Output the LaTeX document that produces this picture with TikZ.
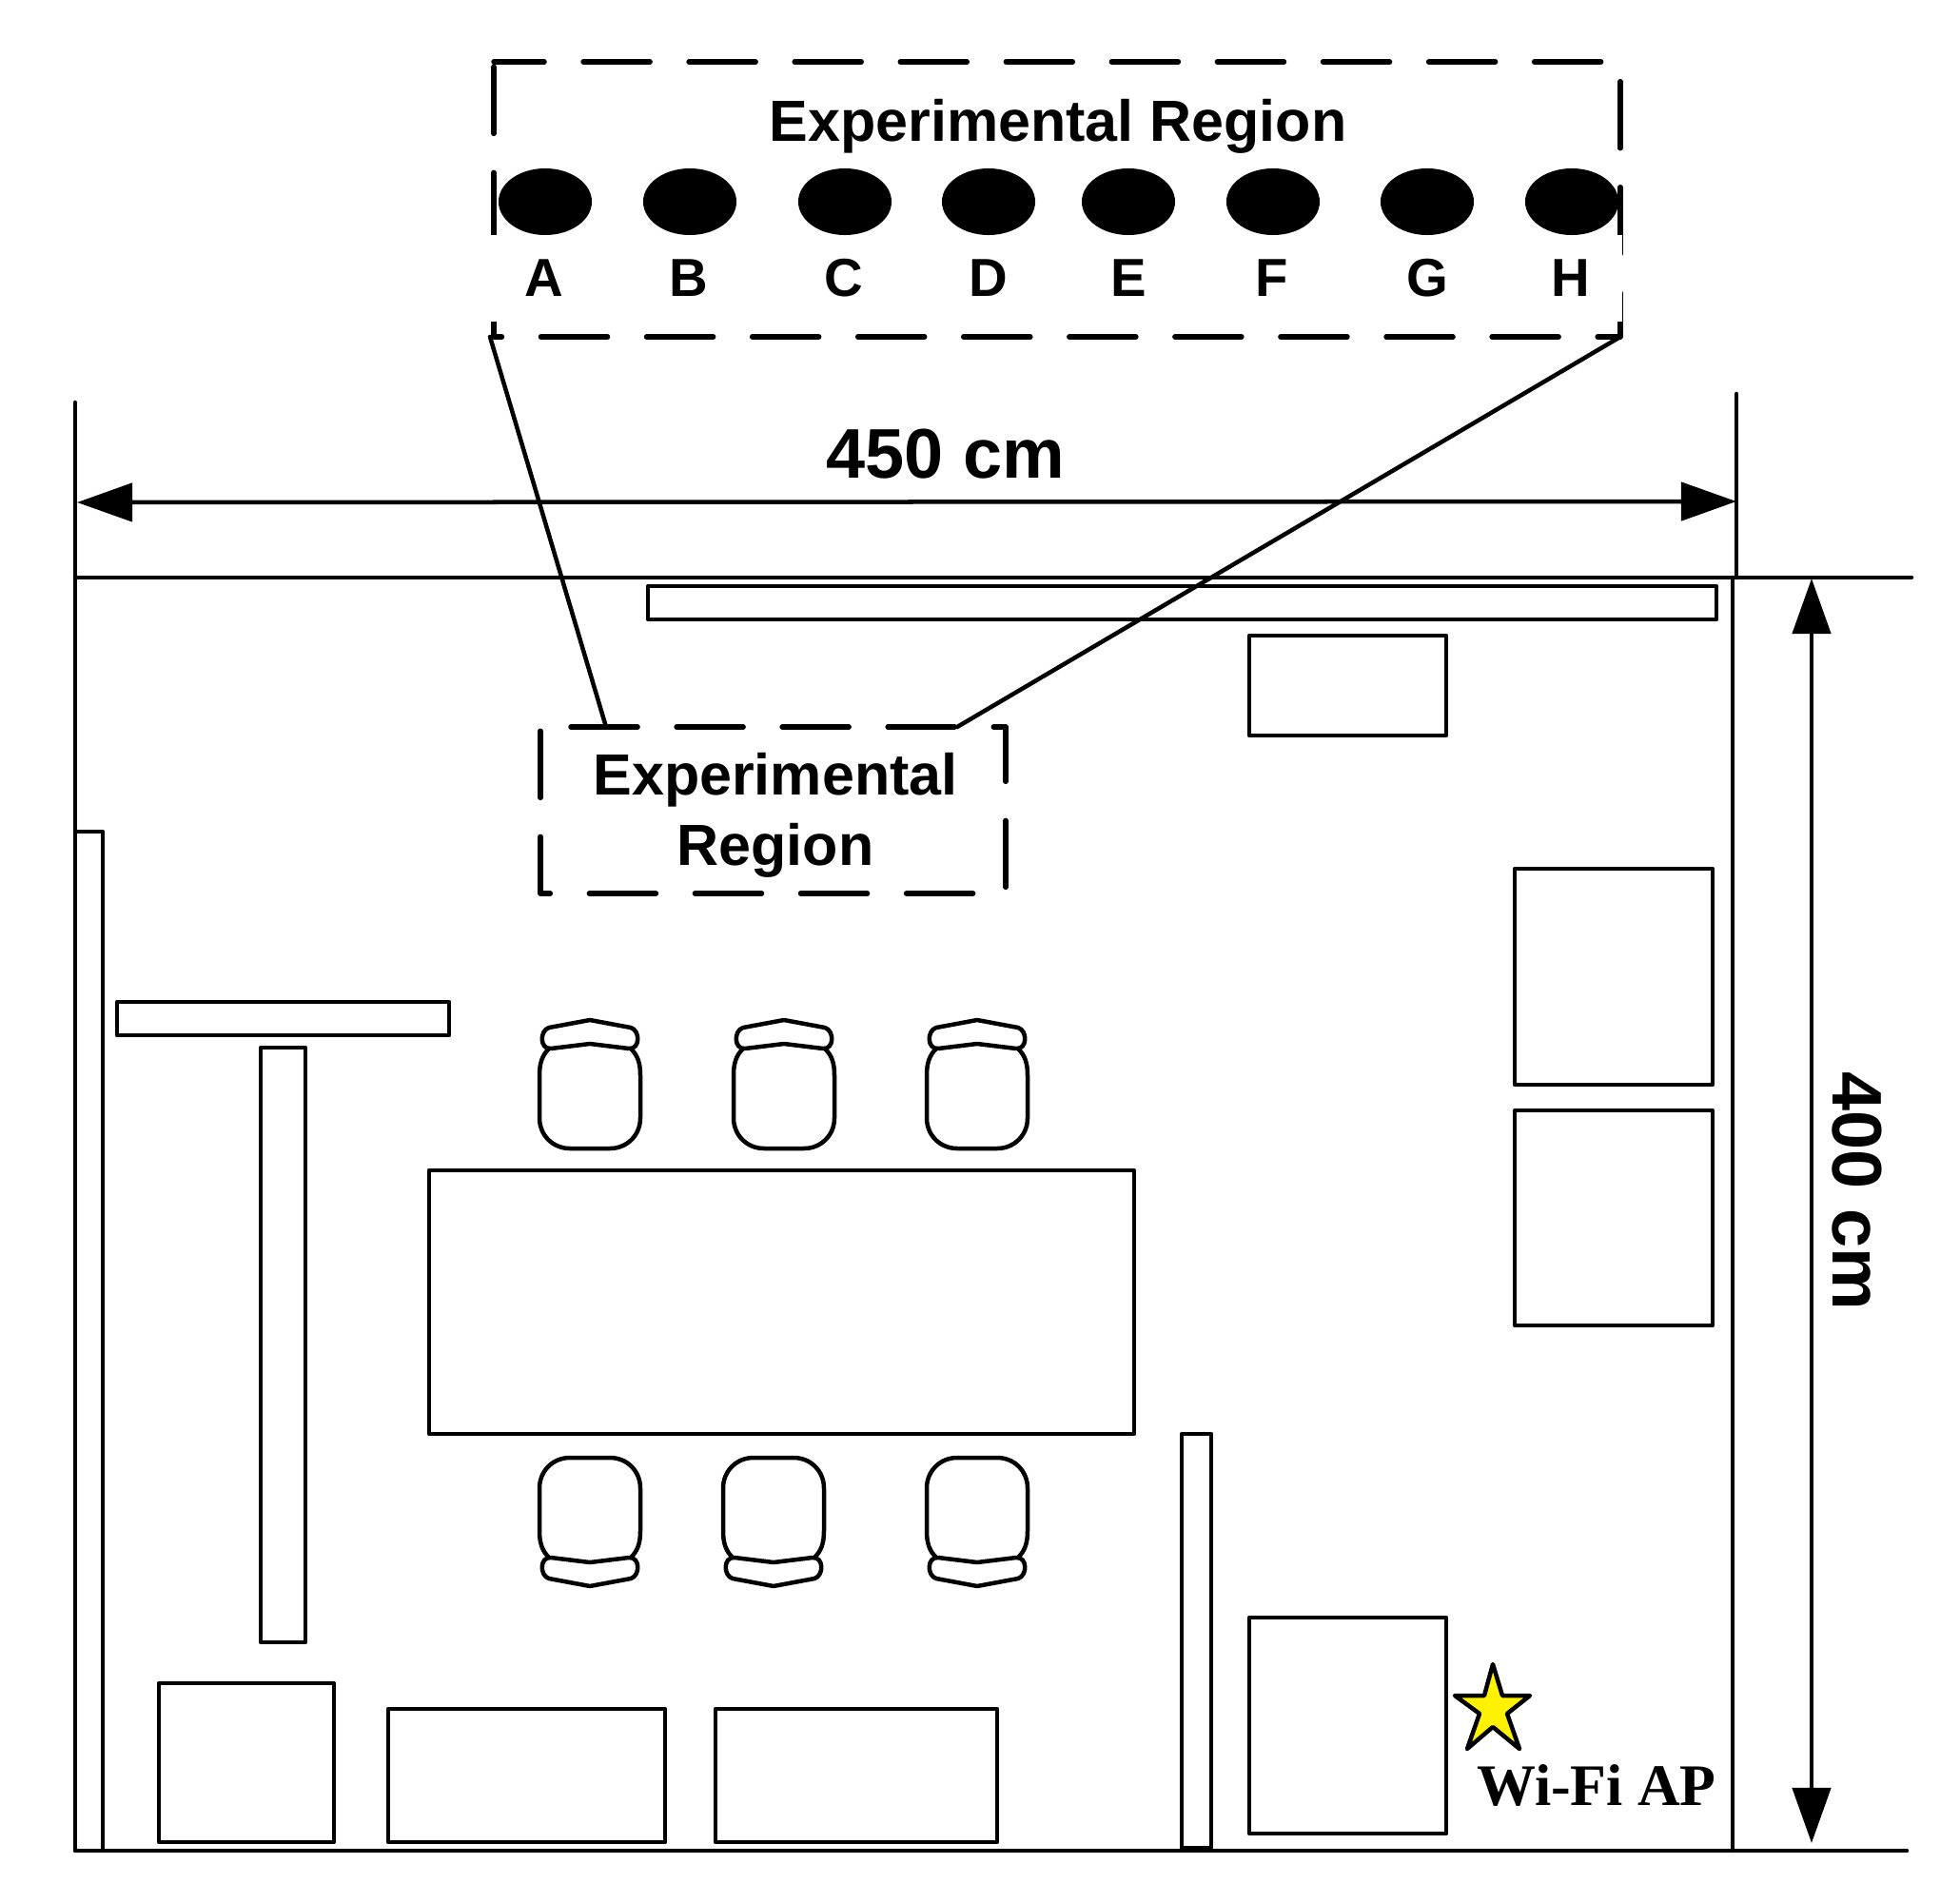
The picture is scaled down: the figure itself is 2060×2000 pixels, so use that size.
\documentclass[tikz,border=0pt]{standalone}
\usepackage{fontspec}
\setmainfont{Liberation Sans}
\newfontfamily\apfont{Liberation Serif}
\usetikzlibrary{arrows.meta,shapes.geometric}
\tikzset{
  plan/.style={draw,line width=0.045cm,line cap=round,line join=round},
  regionbox/.style={plan,line width=0.055cm,dash pattern=on 0.7cm off 0.41cm},
  dimarrow/.style={plan,{Triangle[length=0.58cm,width=0.4cm]}-{Triangle[length=0.58cm,width=0.4cm]}},
  spot/.style={ellipse,fill=black,inner sep=0pt,minimum width=0.98cm,minimum height=0.7cm},
  regionlabel/.style={anchor=base,inner sep=0pt,font=\bfseries\fontsize{17.35}{20.8}\selectfont},
  spotlabel/.style={anchor=base,inner sep=0pt,font=\bfseries\fontsize{16}{19}\selectfont},
  dimlabel/.style={anchor=base,inner sep=0pt,font=\bfseries\fontsize{21}{25}\selectfont},
  pics/chair/.style={code={
    \draw[plan] (-43,30) .. controls (-50,37) and (-53,45) .. (-53,58) -- (-53,103)
      .. controls (-53,121) and (-39,135) .. (-21,135) -- (21,135)
      .. controls (39,135) and (53,121) .. (53,103) -- (53,58)
      .. controls (53,45) and (50,37) .. (43,30);
    \draw[plan] (0,0) -- (-43,8) .. controls (-53,11) and (-53,31) .. (-41,30) -- (0,25)
      -- (41,30) .. controls (53,31) and (53,11) .. (43,8) -- cycle;
  }}
}
\begin{document}
\begin{tikzpicture}[x=0.01cm,y=-0.01cm]
    \useasboundingbox (0,0) rectangle (2060,2000);

    \coordinate (r1) at (519,65);
    \coordinate (r2) at (1703,65);
    \coordinate (r3) at (1703,354);
    \coordinate (r4) at (519,354);
    \coordinate (r5) at (515,354);
    \coordinate (k1) at (637,764);
    \coordinate (k2) at (1006,764);

    \draw[regionbox,dash phase=0.17cm] (r1) -- (r2) -- (r3) -- (r4) -- cycle;
    \fill[white] (510,247) rectangle (1704.6,338);
    \draw[regionbox] (600,764) -- (1057,764) -- (1057,939) -- (568,939) -- (568,764) -- cycle;

    \node[regionlabel] (bigtitle) at (1112,149) {Experimental Region};
    \node[regionlabel,align=center] (smalltitle) at (815,909) {Experimental\\Region};

    \node[spot] (a) at (573,212) {};
    \node[spot] (b) at (725,212) {};
    \node[spot] (c) at (888,212) {};
    \node[spot] (d) at (1039,212) {};
    \node[spot] (e) at (1186,212) {};
    \node[spot] (f) at (1338,212) {};
    \node[spot] (g) at (1500,212) {};
    \node[spot] (h) at (1652,212) {};

    \node[spotlabel] (la) at (572,311) {A};
    \node[spotlabel] (lb) at (724,311) {B};
    \node[spotlabel] (lc) at (887,311) {C};
    \node[spotlabel] (ld) at (1039,311) {D};
    \node[spotlabel] (le) at (1186,311) {E};
    \node[spotlabel] (lf) at (1337,311) {F};
    \node[spotlabel] (lg) at (1500,311) {G};
    \node[spotlabel] (lh) at (1651,311) {H};

    \draw[plan] (r5) -- (k1);
    \draw[plan] (r3) -- (k2);

    \coordinate (w1) at (79,423);
    \coordinate (w2) at (79,1945);
    \coordinate (w3) at (1825,414);
    \coordinate (w4) at (1825,607);
    \coordinate (w5) at (1821,607);
    \coordinate (w6) at (1821,1945);
    \coordinate (t1) at (79,607);
    \coordinate (t2) at (2009,607);
    \coordinate (b2) at (2004,1945);
    \coordinate (h1) at (81,528);
    \coordinate (h2) at (1825,527);
    \coordinate (v1) at (1904,608);
    \coordinate (v2) at (1904,1937);

    \draw[plan] (w1) -- (w2) -- (b2);
    \draw[plan] (t1) -- (t2);
    \draw[plan] (w3) -- (w4);
    \draw[plan] (w5) -- (w6);
    \draw[dimarrow] (h1) -- (h2);
    \draw[dimarrow] (v1) -- (v2);

    \node[dimlabel] (width) at (994,502) {450 cm};
    \node[dimlabel,rotate=-90] (height) at (1926,1252) {400 cm};

    \draw[plan] (681,616) rectangle (1804,651);
    \draw[plan] (1313,668) rectangle (1520,773);
    \draw[plan] (1592,913) rectangle (1800,1140);
    \draw[plan] (1592,1167) rectangle (1800,1393);
    \draw[plan] (79,874) rectangle (108,1945);
    \draw[plan] (123,1053) rectangle (472,1088);
    \draw[plan] (274,1101) rectangle (321,1726);
    \draw[plan] (451,1230) rectangle (1192,1507);
    \draw[plan] (1242,1507) rectangle (1273,1942);
    \draw[plan] (167,1769) rectangle (351,1936);
    \draw[plan] (408,1796) rectangle (699,1936);
    \draw[plan] (752,1796) rectangle (1048,1936);
    \draw[plan] (1313,1700) rectangle (1520,1927);

    \pic at (620,1072) {chair};
    \pic at (824,1072) {chair};
    \pic at (1027,1072) {chair};
    \pic[yscale=-1] at (620,1667) {chair};
    \pic[yscale=-1] at (813,1667) {chair};
    \pic[yscale=-1] at (1027,1667) {chair};

    \draw[plan,fill=yellow] (1569,1749) -- (1579,1782) -- (1608,1782) -- (1584,1801) -- (1597,1838)
      -- (1569,1815) -- (1542,1838) -- (1555,1801) -- (1529,1782) -- (1560,1782) -- cycle;
    \node[anchor=base,inner sep=0pt,font=\apfont\bfseries\fontsize{17.6}{20}\selectfont] (ap) at (1678,1897) {Wi-Fi AP};
\end{tikzpicture}
\end{document}
